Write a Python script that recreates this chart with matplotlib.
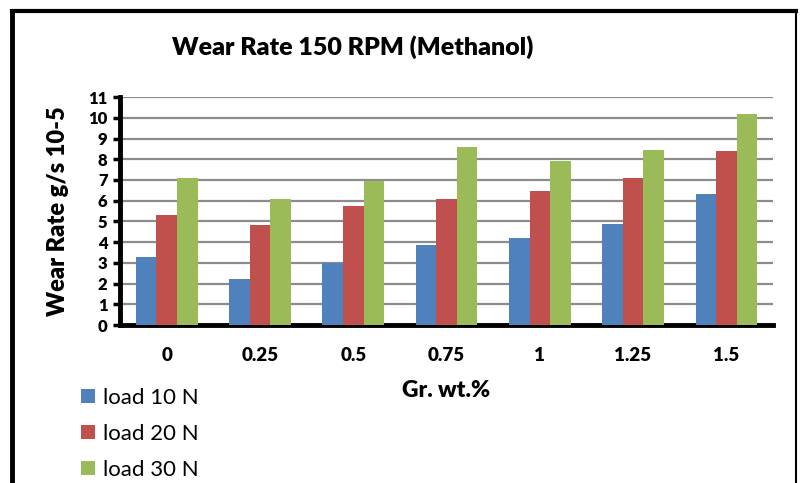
import matplotlib.pyplot as plt
import numpy as np
from matplotlib.lines import Line2D

plt.rcParams['font.family'] = ['Lato', 'DejaVu Sans']

categories = ['0', '0.25', '0.5', '0.75', '1', '1.25', '1.5']
load_10 = [3.3, 2.2, 3.0, 3.85, 4.2, 4.9, 6.3]
load_20 = [5.3, 4.85, 5.75, 6.1, 6.45, 7.1, 8.4]
load_30 = [7.1, 6.1, 6.95, 8.6, 7.9, 8.45, 10.2]
series_names = ['load 10 N', 'load 20 N', 'load 30 N']
colors = ['#4f81bd', '#c0504d', '#9bbb59']

fig = plt.figure(figsize=(8.06, 4.83), dpi=100)
ax = fig.add_axes([0.149, 0.327, 0.81, 0.472])

x = np.arange(len(categories))
w = 0.22
handles = []
for i, (vals, name, c) in enumerate(zip([load_10, load_20, load_30], series_names, colors)):
    b = ax.bar(x + (i - 1) * w, vals, w, color=c, label=name, zorder=3)
    handles.append(b)

ax.set_xlim(-0.5, len(categories) - 0.5)
ax.set_ylim(0, 11)
ax.set_yticks(range(12))
ax.set_xticks(x)
ax.set_xticklabels(categories, fontsize=13.5, fontweight='heavy')
for lab in ax.get_yticklabels():
    lab.set_fontsize(12)
    lab.set_fontweight('heavy')

ax.yaxis.grid(True, color='#8c8c8c', linewidth=1.6, zorder=0)
ax.set_axisbelow(True)
for s in ['top', 'right']:
    ax.spines[s].set_visible(False)
ax.spines['left'].set_linewidth(3.5)
ax.spines['bottom'].set_linewidth(3.5)
ax.tick_params(axis='y', length=5, width=2.5, pad=4)
ax.tick_params(axis='x', length=0, pad=16)

ax.set_xlabel('Gr. wt.%', fontsize=16.5, fontweight='heavy', labelpad=11)
ax.set_ylabel('Wear Rate g/s 10-5', fontsize=17, fontweight='heavy', labelpad=14)
fig.text(0.438, 0.902, 'Wear Rate 150 RPM (Methanol)', fontsize=18, fontweight='heavy',
         ha='center', va='center')

fig.legend(handles=handles, labels=series_names, loc='upper left',
           bbox_to_anchor=(0.09, 0.215), frameon=False, fontsize=16,
           handlelength=0.6, handleheight=0.6, handletextpad=0.35, labelspacing=0.72,
           borderaxespad=0)

# outer frame
fig.add_artist(Line2D([0.015, 0.015], [0, 0.978], color='black', linewidth=3.5))
fig.add_artist(Line2D([0.015, 0.987], [0.978, 0.978], color='black', linewidth=3))
fig.add_artist(Line2D([0.987, 0.987], [0, 0.978], color='black', linewidth=1.5))

plt.savefig('out.png', dpi=100)
